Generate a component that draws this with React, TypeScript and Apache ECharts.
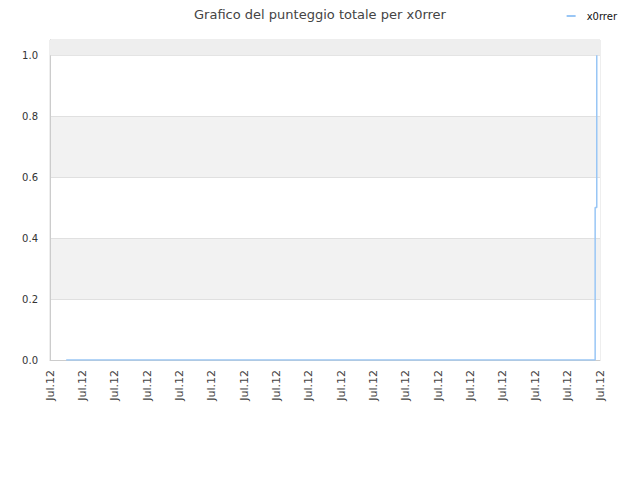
import React, { useEffect, useRef } from "react";
import * as echarts from "echarts";

const seriesName = "x0rrer";
const titleText = "Grafico del punteggio totale per x0rrer";
const tickLabel = "Jul.12";
const tickCount = 17; // number of intervals on x axis
const pointX = [0.5, 16.85, 16.85, 16.9, 16.9];
const pointY = [0, 0, 0.5, 0.5, 1.0];
const topBand = [1.0, 1.05];

export default function App() {
  const ref = useRef<HTMLDivElement>(null);
  useEffect(() => {
    document.body.style.margin = "0";
    const chart = echarts.init(ref.current!, null, { renderer: "svg" });
    const font = "DejaVu Sans";
    chart.setOption({
      animation: false,
      backgroundColor: "#ffffff",
      textStyle: { fontFamily: font },
      title: {
        text: titleText,
        left: "center",
        top: 3,
        textStyle: { fontFamily: font, fontSize: 13, fontWeight: "normal", color: "#444" },
      },
      legend: {
        right: 18,
        top: 6,
        icon: "rect",
        itemWidth: 9,
        itemHeight: 2,
        itemGap: 6,
        textStyle: { fontFamily: font, fontSize: 10, color: "#111", padding: [0, 0, 0, 6] },
        data: [seriesName],
      },
      grid: {
        left: 50,
        right: 40,
        top: 40,
        bottom: 120,
        show: true,
        borderColor: "#dddddd",
        borderWidth: 1,
        backgroundColor: "transparent",
      },
      xAxis: {
        type: "value",
        min: 0,
        max: tickCount,
        interval: 1,
        axisLine: { show: true, lineStyle: { color: "#cccccc" } },
        axisTick: { show: false },
        splitLine: { show: false },
        axisLabel: {
          rotate: 90,
          formatter: () => tickLabel,
          fontFamily: font,
          fontSize: 11,
          color: "#444",
          margin: 10,
          showMinLabel: true,
          showMaxLabel: true,
        },
      },
      yAxis: {
        type: "value",
        min: 0,
        max: 1.05,
        interval: 0.2,
        axisLine: { show: true, lineStyle: { color: "#cccccc" } },
        axisTick: { show: false },
        splitLine: { show: true, lineStyle: { color: "#e0e0e0" } },
        splitArea: { show: true, areaStyle: { color: ["#ffffff", "#f2f2f2"] } },
        axisLabel: {
          formatter: (v: number) => (v > 1.01 ? "" : v.toFixed(1)),
          fontFamily: font,
          fontSize: 10,
          color: "#333",
          margin: 12,
          showMaxLabel: false,
        },
      },
      series: [
        {
          name: seriesName,
          type: "line",
          data: pointX.map((x, i) => [x, pointY[i]]),
          showSymbol: false,
          symbol: "none",
          lineStyle: { color: "#99c6f5", width: 1.5 },
          itemStyle: { color: "#99c6f5" },
          markArea: {
            silent: true,
            itemStyle: { color: "#eeeeee" },
            data: [[{ yAxis: topBand[0] }, { yAxis: topBand[1] }]],
          },
        },
      ],
    });
    return () => chart.dispose();
  }, []);
  return <div ref={ref} style={{ width: 640, height: 480 }} />;
}
